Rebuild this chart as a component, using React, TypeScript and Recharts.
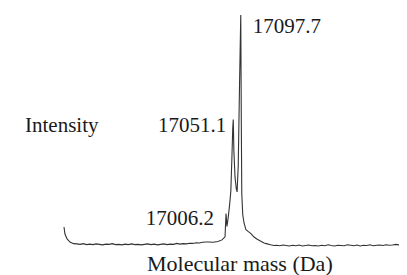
import React from "react";
import { LineChart, Line, XAxis, YAxis, ReferenceDot } from "recharts";

// Molecular mass (Da) and relative intensity
const leftEdgeMass = [16000, 16006, 16019, 16037, 16060];
const leftEdgeInt = [9.8, 6.8, 4.7, 3.4, 2.7];

const leftBaseStart = 16080;
const leftBaseStep = 20;
const leftBaseInt = [
  2.6, 2.4, 2.7, 2.3, 2.5, 2.3, 2.6, 2.4, 2.2, 2.5, 2.4, 2.7, 2.3, 2.4, 2.2, 2.5,
  2.3, 2.6, 2.3, 2.4, 2.2, 2.4, 2.6, 2.3, 2.5, 2.2, 2.4, 2.6, 2.3, 2.5, 2.4, 2.8,
  2.5, 2.7, 2.6, 2.9, 2.8, 3.1, 3.0, 3.3, 3.4,
];

const peakMass = [
  16900, 16925, 16956, 16981, 17000, 17006.2, 17012, 17020, 17028, 17036, 17043,
  17048, 17051.1, 17055, 17062, 17070, 17075, 17082, 17090, 17097.7, 17101,
  17104, 17110, 17118, 17130, 17145, 17161, 17180, 17200, 17220, 17242, 17262,
  17282, 17304,
];
const peakInt = [
  3.4, 3.3, 3.6, 4.3, 5.6, 15.5, 10, 14, 19, 25, 40, 52, 55.5, 42, 31, 26, 24.7,
  36, 70, 100, 55, 24, 15, 11.5, 8.6, 7.8, 7.0, 5.5, 4.6, 3.8, 3.0, 2.6, 2.2,
  1.9,
];

const rightBaseStart = 17320;
const rightBaseStep = 20;
const rightBaseInt = [
  2.0, 1.8, 2.1, 1.9, 1.7, 2.0, 1.8, 2.1, 1.7, 1.9, 2.1, 1.8, 1.9, 1.7, 2.0, 1.8,
  2.2, 1.9, 1.7, 2.0, 1.9, 1.8, 2.2, 2.0, 1.8, 2.1, 1.7, 2.0, 1.9, 2.2, 1.8, 2.0,
  2.1, 1.9, 2.2, 2.0, 2.1, 2.4, 2.2, 2.4,
];
const rightEdgeMass = [18110, 18120, 18130];
const rightEdgeInt = [2.8, 3.8, 4.5];

const peakLabels = ["17006.2", "17051.1", "17097.7"];
const peakLabelMass = [17006.2, 17051.1, 17097.7];
const peakLabelInt = [15.5, 55.5, 100];

const xTitle = "Molecular mass (Da)";
const yTitle = "Intensity";

const data: { mass: number; intensity: number }[] = [];
leftEdgeMass.forEach((m, i) => data.push({ mass: m, intensity: leftEdgeInt[i] }));
leftBaseInt.forEach((v, i) =>
  data.push({ mass: leftBaseStart + i * leftBaseStep, intensity: v })
);
peakMass.forEach((m, i) => data.push({ mass: m, intensity: peakInt[i] }));
rightBaseInt.forEach((v, i) =>
  data.push({ mass: rightBaseStart + i * rightBaseStep, intensity: v })
);
rightEdgeMass.forEach((m, i) => data.push({ mass: m, intensity: rightEdgeInt[i] }));

const FONT = "'Liberation Serif', 'Times New Roman', serif";
const labelOffsets = [
  { dx: -12, dy: 11, anchor: "end" },
  { dx: -7, dy: 12, anchor: "end" },
  { dx: 12, dy: 18, anchor: "start" },
];

export default function App() {
  return (
    <div style={{ position: "relative", width: 399, height: 267 }}>
      <LineChart
        width={399}
        height={267}
        data={data}
        margin={{ top: 7, right: 0, bottom: 25, left: 56 }}
      >
        <XAxis type="number" dataKey="mass" domain={[16000, 18130]} hide />
        <YAxis type="number" domain={[0, 100]} hide />
        <Line
          type="linear"
          dataKey="intensity"
          stroke="#333333"
          strokeWidth={1.1}
          dot={false}
          isAnimationActive={false}
        />
        {peakLabels.map((t, i) => (
          <ReferenceDot
            key={t}
            x={peakLabelMass[i]}
            y={peakLabelInt[i]}
            r={0}
            ifOverflow="visible"
            shape={(p: any) => (
              <text
                x={p.cx + labelOffsets[i].dx}
                y={p.cy + labelOffsets[i].dy}
                textAnchor={labelOffsets[i].anchor as any}
                fontFamily={FONT}
                fontSize={21}
                fill="#1a1a1a"
              >
                {t}
              </text>
            )}
          />
        ))}
      </LineChart>
      <svg
        width={399}
        height={267}
        style={{ position: "absolute", left: 0, top: 0, pointerEvents: "none" }}
      >
        <text x={17} y={124} fontFamily={FONT} fontSize={21} fill="#1a1a1a">
          {yTitle}
        </text>
        <text x={139} y={263} fontFamily={FONT} fontSize={22} fill="#1a1a1a">
          {xTitle}
        </text>
      </svg>
    </div>
  );
}
